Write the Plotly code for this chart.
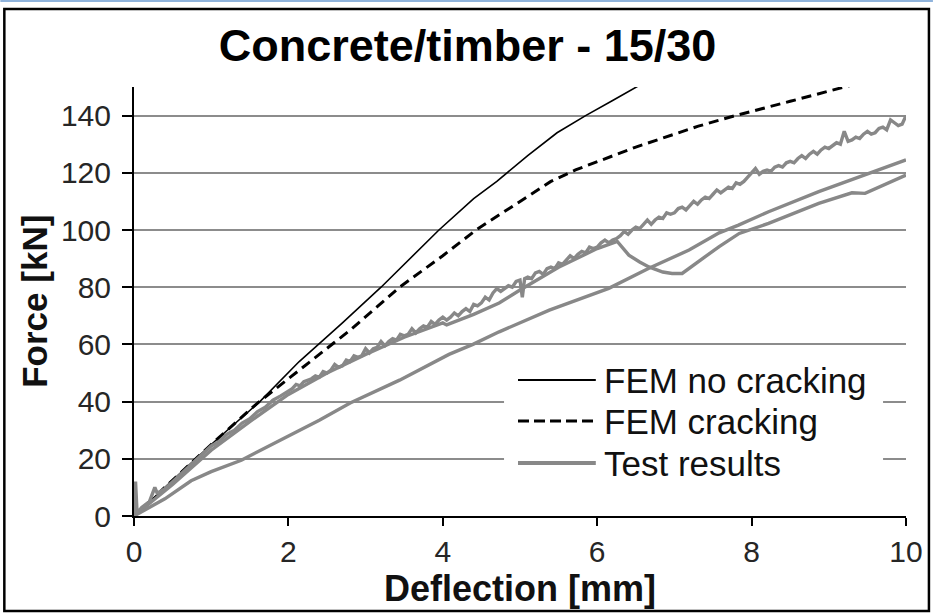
import plotly.graph_objects as go

# ---------------- data ----------------
x_ticks = [0, 2, 4, 6, 8, 10]
y_ticks = [0, 20, 40, 60, 80, 100, 120, 140]

fem_nc_x = [0, 0.5, 1.0, 1.63, 2.14, 2.7, 3.2, 3.95, 4.4, 4.7, 5.1, 5.48, 5.85, 6.2, 6.6]
fem_nc_y = [0, 12.5, 25, 40, 54, 67.5, 80, 100, 111, 117, 126, 134, 140, 145.3, 151.4]

fem_c_x = [0, 0.5, 1.0, 1.6, 2.14, 2.8, 3.44, 4.0, 4.43, 5.0, 5.4, 5.72, 6.5, 7.31, 7.79, 8.5, 9.3]
fem_c_y = [0, 12.5, 25, 39.5, 51, 65, 80, 91, 100, 110, 117, 121, 129, 136.3, 140, 145, 150.7]

# test 1 (noisy upper curve) as (deflection, force) pairs
test1_pts = [
    (0, 0), (0.02, 12), (0.04, 1), (0.1, 3), (0.2, 5), (0.27, 10), (0.3, 8), (0.4, 9.5),
    (0.5, 12), (0.6, 14.5), (0.7, 17), (0.8, 19.5), (0.9, 22), (1.0, 24.5), (1.1, 26),
    (1.2, 28.5), (1.3, 30), (1.4, 32.5), (1.5, 34), (1.6, 36.5), (1.7, 38), (1.8, 40.5),
    (1.9, 42), (2.0, 43.5), (2.05, 44.5), (2.1, 46), (2.15, 45.5), (2.2, 47), (2.3, 48),
    (2.35, 49), (2.4, 48.5), (2.45, 50.5), (2.5, 50), (2.55, 51), (2.6, 53), (2.65, 52),
    (2.7, 52.5), (2.75, 54.5), (2.8, 54), (2.85, 56), (2.9, 55.5), (2.95, 56), (3.0, 58.5),
    (3.05, 57), (3.1, 58.5), (3.15, 59), (3.2, 61), (3.25, 59.5), (3.3, 61), (3.35, 62),
    (3.4, 61.5), (3.45, 63.5), (3.5, 63), (3.55, 63.5), (3.6, 65.5), (3.65, 64), (3.7, 65.5),
    (3.75, 66.5), (3.8, 66), (3.85, 68), (3.9, 67), (3.95, 68.5), (4.0, 69.5), (4.05, 68.5),
    (4.1, 69.5), (4.15, 71), (4.2, 70), (4.25, 71.5), (4.3, 72.5), (4.35, 71.5), (4.4, 74),
    (4.45, 73.5), (4.5, 74.5), (4.55, 76.5), (4.6, 75.5), (4.65, 78), (4.7, 79.5), (4.75, 78.5),
    (4.8, 79.5), (4.85, 80.5), (4.9, 80), (4.95, 82), (5.0, 82.5), (5.03, 76.5), (5.06, 83),
    (5.1, 83.5), (5.15, 83), (5.2, 85), (5.25, 85.5), (5.3, 84.5), (5.35, 86.5), (5.4, 87),
    (5.45, 86.5), (5.5, 88.5), (5.55, 88), (5.6, 89.5), (5.65, 91), (5.7, 90), (5.75, 91.5),
    (5.8, 92.5), (5.85, 92), (5.9, 94), (5.95, 93.5), (6.0, 94), (6.05, 95.5), (6.1, 96.5),
    (6.15, 95.5), (6.2, 96.5), (6.25, 97), (6.3, 98), (6.35, 99.5), (6.4, 98.5), (6.45, 100),
    (6.5, 101), (6.55, 100.5), (6.6, 102), (6.65, 103.5), (6.7, 102), (6.75, 103.5),
    (6.8, 104.5), (6.85, 104), (6.9, 106), (6.95, 105.5), (7.0, 106), (7.05, 107.5),
    (7.1, 108), (7.15, 107), (7.2, 108.5), (7.25, 110), (7.3, 109), (7.35, 110.5),
    (7.4, 111.5), (7.45, 111), (7.5, 112.5), (7.55, 114), (7.6, 113), (7.65, 114), (7.7, 115),
    (7.75, 114.5), (7.8, 116.5), (7.85, 116), (7.9, 117), (7.95, 118.5), (8.0, 120),
    (8.05, 121.5), (8.1, 119.5), (8.15, 120.5), (8.2, 121), (8.25, 120.5), (8.3, 122),
    (8.35, 122.5), (8.4, 122), (8.45, 123.5), (8.5, 124), (8.55, 123.5), (8.6, 125),
    (8.65, 126), (8.7, 125), (8.75, 126.5), (8.8, 127.5), (8.85, 126.5), (8.9, 128),
    (8.95, 129), (9.0, 128.5), (9.05, 129.5), (9.1, 130.5), (9.15, 130), (9.2, 134.5),
    (9.25, 131), (9.3, 131.5), (9.35, 132.5), (9.4, 132), (9.45, 133.5), (9.5, 134.5),
    (9.55, 133.5), (9.6, 134), (9.65, 135.5), (9.7, 136), (9.75, 135), (9.8, 138.5),
    (9.85, 137.5), (9.9, 136.5), (9.95, 137), (10.0, 140),
]
test1_x = [p[0] for p in test1_pts]
test1_y = [p[1] for p in test1_pts]

test2_x = [0, 0.5, 1.0, 1.5, 2.0, 2.5, 3.0, 3.5, 4.0, 4.05, 4.4, 4.73, 5.0, 5.5, 6.0, 6.26,
           6.41, 6.55, 6.67, 6.85, 6.97, 7.1, 7.4, 7.58, 7.84, 8.22, 8.87, 9.3, 9.47, 10.0]
test2_y = [0, 11, 23, 33, 42.5, 50, 56.5, 62.5, 67.5, 66.8, 70.5, 74.5, 79, 87, 93.5, 96,
           91.2, 88.8, 87.1, 85.3, 84.8, 84.8, 90.7, 94.2, 98.8, 102.3, 109.3, 113, 112.8, 119.2]

test3_x = [0, 0.4, 0.74, 1.0, 1.39, 2.0, 2.4, 2.8, 3.44, 4.08, 4.39, 4.73, 5.38, 6.15, 6.67,
           7.19, 7.58, 7.83, 8.22, 8.87, 9.52, 10.0]
test3_y = [0, 6, 12.3, 15.5, 19.5, 28, 33.5, 39.5, 47.5, 56.5, 60, 64.4, 72, 79.6, 86.6,
           93, 99, 101.7, 106.4, 113.4, 119.8, 124.5]

legend_names = ["FEM no cracking", "FEM cracking", "Test results"]

# ---------------- figure ----------------
FONT = "Liberation Sans, Arial, sans-serif"
GRAY = "#888888"
fig = go.Figure()
fig.add_trace(go.Scatter(x=fem_nc_x, y=fem_nc_y, mode="lines", name=legend_names[0],
                         line=dict(color="black", width=1.6)))
fig.add_trace(go.Scatter(x=fem_c_x, y=fem_c_y, mode="lines", name=legend_names[1],
                         line=dict(color="black", width=3, dash="10px,6px")))
for tx, ty in [(test3_x, test3_y), (test2_x, test2_y), (test1_x, test1_y)]:
    fig.add_trace(go.Scatter(x=tx, y=ty, mode="lines", name=legend_names[2],
                             line=dict(color=GRAY, width=3.4)))

L, R, T, B = 134, 27, 87, 98
W, H = 935, 614
pw, ph = W - L - R, H - T - B


def px(xp):
    return (xp - L) / pw


def py(yp):
    return (H - B - yp) / ph


shapes = [
    # legend background
    dict(type="rect", xref="paper", yref="paper", x0=px(505), x1=px(885), y0=py(482), y1=py(360),
         fillcolor="white", line=dict(width=0), layer="above"),
    # legend samples
    dict(type="line", xref="paper", yref="paper", x0=px(519), x1=px(597), y0=py(380), y1=py(380),
         line=dict(color="black", width=2), layer="above"),
    dict(type="line", xref="paper", yref="paper", x0=px(519), x1=px(597), y0=py(421), y1=py(421),
         line=dict(color="black", width=3, dash="11px,5px"), layer="above"),
    dict(type="line", xref="paper", yref="paper", x0=px(519), x1=px(597), y0=py(463), y1=py(463),
         line=dict(color=GRAY, width=4), layer="above"),
    # outer frame
    dict(type="rect", xref="paper", yref="paper", x0=px(4), x1=px(931), y0=py(611), y1=py(9),
         line=dict(color="black", width=2.5), layer="above"),
    dict(type="line", xref="paper", yref="paper", x0=px(0), x1=px(935), y0=py(1), y1=py(1),
         line=dict(color="#8fb3dc", width=2), layer="above"),
]

annotations = [
    dict(text=name, xref="paper", yref="paper", x=px(603), y=py(yy), xanchor="left",
         yanchor="middle", showarrow=False,
         font=dict(family=FONT, size=35, color="#111111"))
    for name, yy in zip(legend_names, [380, 421, 463])
]
annotations.append(dict(text="<b>Force [kN]</b>", xref="paper", yref="paper", x=px(34), y=0.5,
                        xanchor="center", yanchor="middle", textangle=-90, showarrow=False,
                        font=dict(family=FONT, size=35, color="#111111")))

fig.update_layout(
    width=W, height=H,
    margin=dict(l=L, r=R, t=T, b=B, pad=0),
    paper_bgcolor="white", plot_bgcolor="white",
    showlegend=False,
    title=dict(text="<b>Concrete/timber - 15/30</b>", x=0.5, xref="container", xanchor="center",
               y=1 - 45 / H, yref="container", yanchor="middle",
               font=dict(family=FONT, size=45, color="black")),
    shapes=shapes,
    annotations=annotations,
)
fig.update_xaxes(range=[0, 10], tickvals=x_ticks, ticktext=[str(v) for v in x_ticks],
                 showgrid=False, zeroline=False, showline=True, linecolor="black", linewidth=2,
                 ticks="outside", ticklen=8, tickwidth=2, tickcolor="black",
                 tickfont=dict(family=FONT, size=30, color="#262626"),
                 title=dict(text="<b>Deflection [mm]</b>", standoff=2,
                            font=dict(family=FONT, size=36, color="#111111")))
fig.update_yaxes(range=[0, 150], tickvals=y_ticks, ticktext=[str(v) for v in y_ticks],
                 showgrid=True, gridcolor="#8c8c8c", gridwidth=1.5, zeroline=False,
                 showline=True, linecolor="black", linewidth=2,
                 ticks="outside", ticklen=10, tickwidth=2, tickcolor="black",
                 ticklabelstandoff=5,
                 tickfont=dict(family=FONT, size=30, color="#262626"))

fig.write_html("out.html", config={"displayModeBar": False},
               post_script="document.body.style.margin='0';")
